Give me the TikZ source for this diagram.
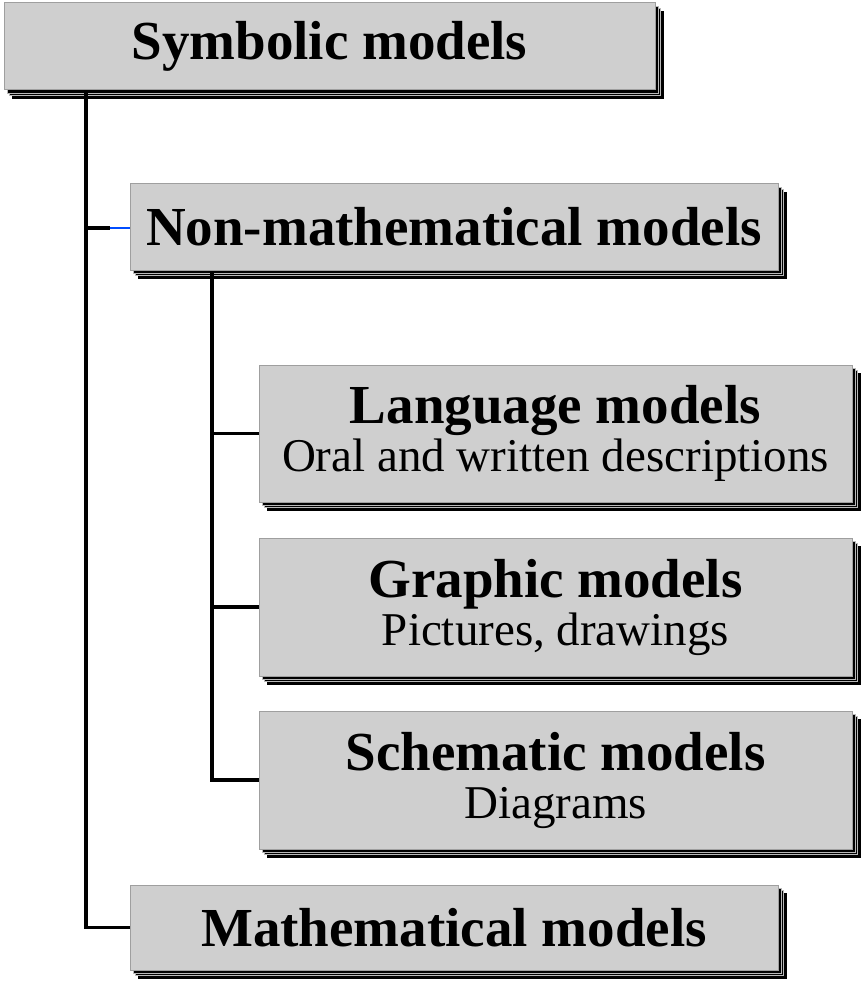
\documentclass[tikz,border=0pt]{standalone}
\usepackage{fontspec}
\setmainfont{Liberation Serif}
\usetikzlibrary{shadows}
\begin{document}
\begin{tikzpicture}[x=1pt,y=-1pt,
  box/.style={draw=gray!75, line width=1pt, fill=gray!38, inner sep=0pt,
    align=center, text=black,
    general shadow={shadow xshift=8pt, shadow yshift=-8pt, fill=black, draw=black, line width=0.5pt},
    general shadow={shadow xshift=5.5pt, shadow yshift=-5.5pt, fill=black, draw=gray!55, line width=0.6pt},
    general shadow={shadow xshift=3pt, shadow yshift=-3pt, fill=black, draw=gray!55, line width=0.6pt}},
  link/.style={line width=3.2pt}]
\useasboundingbox (0,0) rectangle (865,984);

\newcommand{\titlefont}{\fontsize{55}{60}\selectfont\bfseries}
\newcommand{\subfont}{\fontsize{47}{52}\selectfont\mdseries}

\node[box, minimum width=651pt, minimum height=87pt] (sym) at (329.5,46.5)
  {\titlefont Symbolic models};
\node[box, minimum width=648pt, minimum height=86pt] (nonm) at (454,227)
  {\titlefont Non-mathematical models};
\node[box, minimum width=593pt, minimum height=137pt, font=\subfont] (lang) at (555.5,433.5)
  {{\titlefont Language models}\\[-4pt]
   Oral and written descriptions};
\node[box, minimum width=593pt, minimum height=138pt, font=\subfont] (graph) at (555.5,607)
  {{\titlefont Graphic models}\\[-4pt]
   Pictures, drawings};
\node[box, minimum width=593pt, minimum height=138pt, font=\subfont] (schem) at (555.5,780)
  {{\titlefont Schematic models}\\[-4pt]
   Diagrams};
\node[box, minimum width=648pt, minimum height=85pt] (math) at (454,927.5)
  {\titlefont Mathematical models};

% trunk from the top box
\coordinate (t1) at (86,91);
\coordinate (b1) at (110,228);
\draw[link] (t1) |- (math.west);
\draw[link] (t1 |- b1) -- (b1);
\draw[blue!70!cyan, line width=1.5pt] (b1) -- (b1 -| nonm.west);

% branch of the non-mathematical models
\coordinate (t2) at (212,271);
\draw[link] (t2) |- (schem.west);
\draw[link] (t2 |- lang.west) -- (lang.west);
\draw[link] (t2 |- graph.west) -- (graph.west);
\end{tikzpicture}
\end{document}
